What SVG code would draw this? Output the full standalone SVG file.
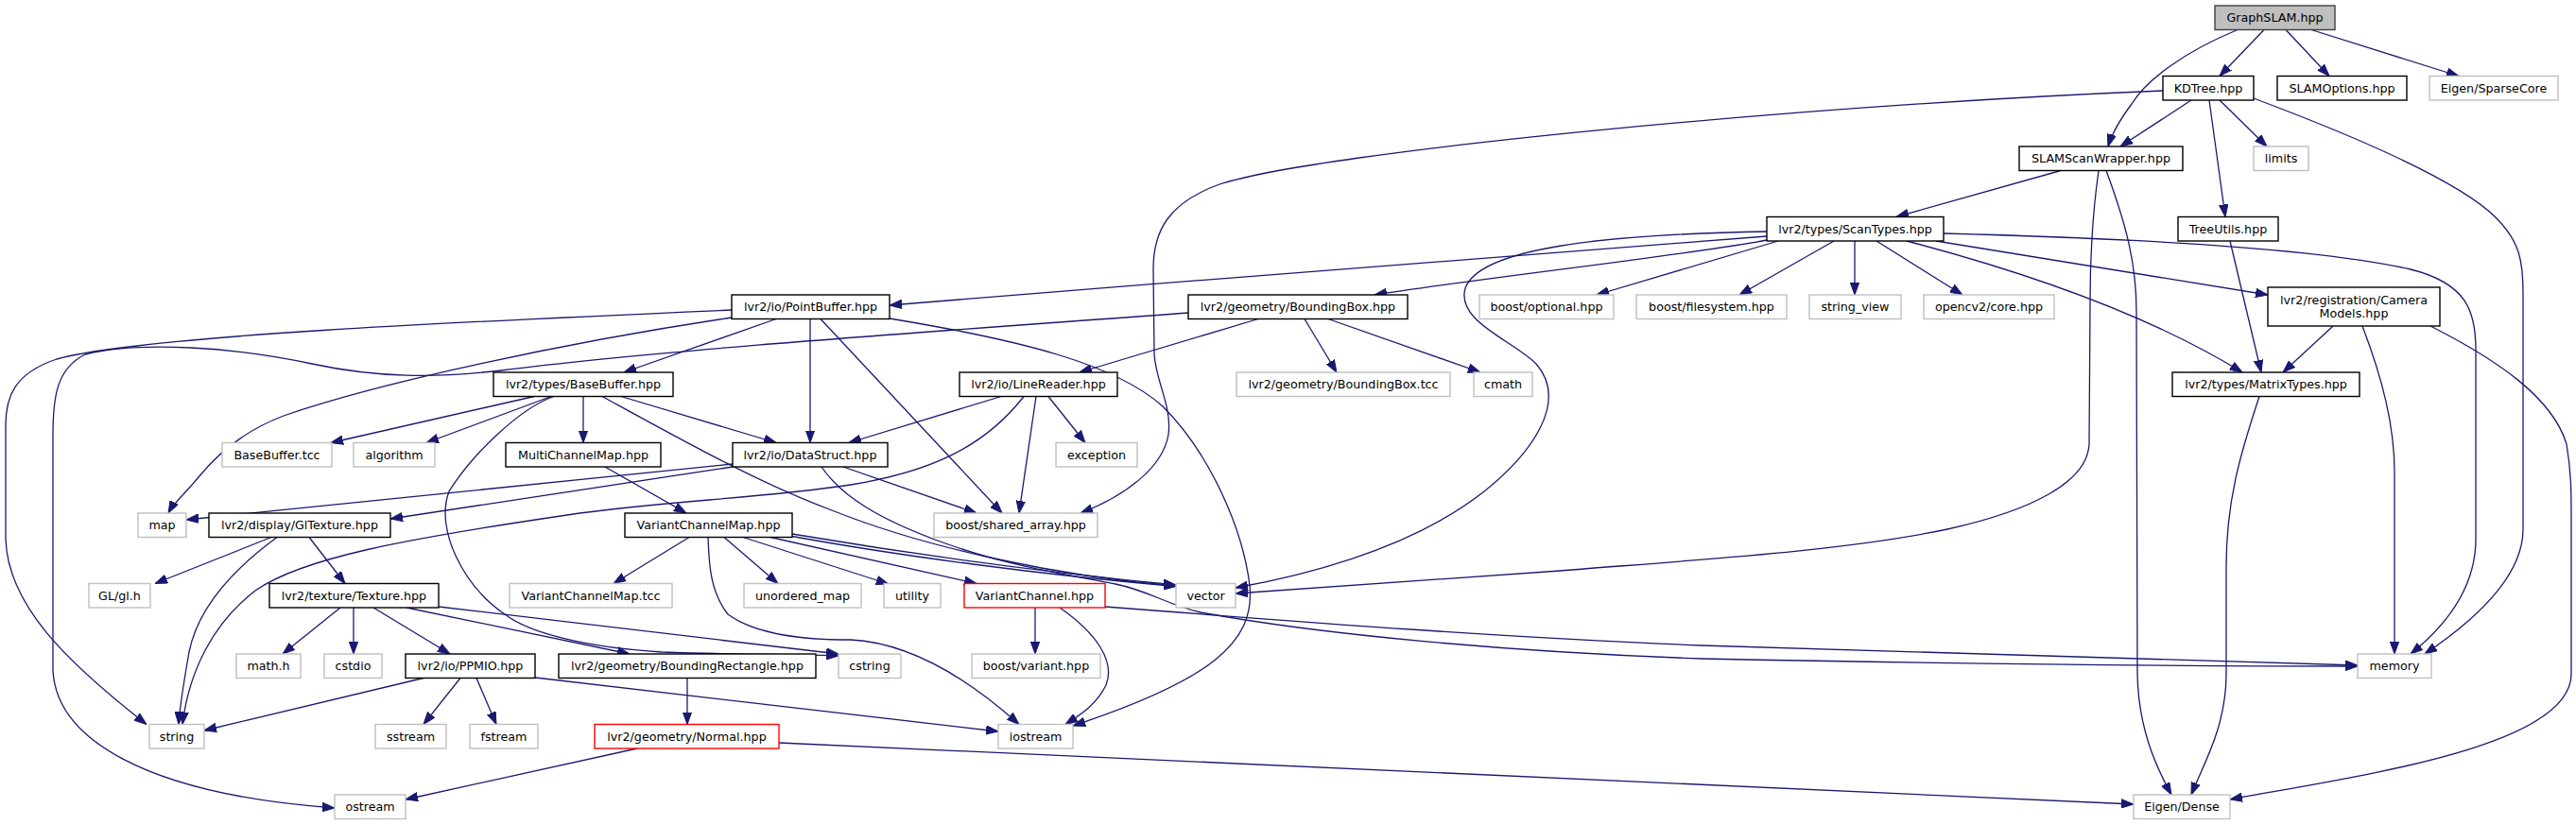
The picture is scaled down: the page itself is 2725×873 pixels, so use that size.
<svg xmlns="http://www.w3.org/2000/svg" width="2725" height="873" viewBox="0 0 2725 873">
<defs>
<marker id="a" markerWidth="13" markerHeight="10" refX="13" refY="5" orient="auto" markerUnits="userSpaceOnUse"><path d="M0,0.3 L13,5 L0,9.7 z" fill="#191970" stroke="#191970" stroke-width="1"/></marker>
<style>
.node rect{fill:#ffffff;stroke:#000000;stroke-width:1.4}
.node.g rect{stroke:#bfbfbf}
.node.r rect{stroke:#ff0000}
.node.root rect{fill:#bfbfbf;stroke:#404040}
.node text{font-family:"DejaVu Sans","Liberation Sans",sans-serif;font-size:12.7px;text-anchor:middle;fill:#000000}
#edges path{fill:none;stroke:#191970;stroke-width:1.3;marker-end:url(#a)}
</style>
</defs>
<rect width="2725" height="873" fill="#ffffff"/>
<g id="edges">
<path d="M2395,31.5 L2348,80.5"/>
<path d="M2418,31.5 L2464,80.5"/>
<path d="M2445,31.5 L2601,80.5"/>
<path d="M2367,31.5 C2310,55 2270,85 2255,110 C2240,130 2233,145 2230,155"/>
<path d="M2318,106 L2243,155"/>
<path d="M2348,106 L2398,155"/>
<path d="M2337,106 L2354,229.5"/>
<path d="M2384,104 C2480,140 2600,190 2640,230 C2665,255 2669,275 2669,310 L2669,560 C2669,610 2620,655 2565,692"/>
<path d="M2288,96 C1900,112 1400,160 1290,195 C1235,215 1220,245 1220,285 L1221,375 C1223,405 1240,430 1236,460 C1230,495 1190,525 1143,543"/>
<path d="M2180,180.5 L2006,229.5"/>
<path d="M2220,180.5 C2213,230 2211,270 2211,320 L2210,470 C2208,510 2150,540 2060,560 C1950,583 1800,592 1650,604 C1500,614 1400,622 1307,628"/>
<path d="M2228,180.5 C2250,240 2260,280 2260,330 L2261,713 C2262,770 2280,810 2297,841"/>
<path d="M1869,250 C1780,258 1300,293 941,323"/>
<path d="M1869,254 C1800,268 1560,295 1454,312"/>
<path d="M1881,255 L1689,312"/>
<path d="M1940,255 L1840,312"/>
<path d="M1962,255 L1962,312"/>
<path d="M1985,255 L2076,312"/>
<path d="M2048,255 L2399,312"/>
<path d="M2017,255 C2120,282 2260,325 2372,394"/>
<path d="M2056,247 C2250,252 2450,262 2550,285 C2610,300 2619,330 2619,370 L2619,570 C2619,620 2590,660 2550,692"/>
<path d="M1869,245 C1700,248 1565,262 1550,305 C1540,340 1600,360 1625,385 C1660,425 1620,480 1570,520 C1500,575 1400,605 1307,622"/>
<path d="M2359,255 L2392,394"/>
<path d="M2468,345 L2415,394"/>
<path d="M2499,345 C2520,400 2533,450 2533,500 L2533,692"/>
<path d="M2571,345 C2640,380 2700,420 2715,470 C2720,500 2720,520 2720,550 L2720,713 C2720,790 2500,820 2359,846"/>
<path d="M2390,419.5 C2370,480 2355,530 2355,600 L2355,713 C2355,770 2330,810 2318,841"/>
<path d="M821,337.5 L660,394"/>
<path d="M857,337.5 L857,468.5"/>
<path d="M868,337.5 L1060,543"/>
<path d="M774,336 C600,362 400,405 300,440 C260,455 232,478 210,505 C196,522 184,532 178,543"/>
<path d="M774,328 C500,340 150,355 60,380 C15,395 6,420 6,450 L6,570 C8,640 70,700 155,766.5"/>
<path d="M941,337 C1080,360 1180,385 1230,430 C1280,480 1315,560 1322,620 C1328,680 1280,720 1135,768"/>
<path d="M1331,337.5 L1142,394"/>
<path d="M1380,337.5 L1414,394"/>
<path d="M1405,337.5 L1566,394"/>
<path d="M1257,331 C1000,350 700,370 530,392 C460,400 400,400 330,385 C250,368 150,360 90,375 C60,390 56,420 56,460 L56,710 C60,780 150,840 354,855"/>
<path d="M565,419.5 L350,468.5"/>
<path d="M583,419.5 L451,468.5"/>
<path d="M617,419.5 L617,468.5"/>
<path d="M657,419.5 L821,468.5"/>
<path d="M637,419.5 C720,465 800,510 880,540 C980,580 1120,610 1244,620"/>
<path d="M586,419.5 C550,432 500,480 475,520 C460,560 490,620 534,650 C560,670 620,685 700,690 C780,693 840,692 887,694"/>
<path d="M775,491 L197,550"/>
<path d="M775,494 L413,549"/>
<path d="M892,494 L1033,543"/>
<path d="M869,494 C890,525 930,550 1000,575 C1070,600 1140,610 1180,618 C1215,625 1235,640 1270,648 C1400,672 1600,690 1800,697 C2100,703 2350,705 2494,705"/>
<path d="M1059,419.5 L898,468.5"/>
<path d="M1109,419.5 L1148,468.5"/>
<path d="M1096,419.5 L1078,543"/>
<path d="M1083,419.5 C1040,475 980,500 900,513 C800,528 700,530 600,545 C430,570 320,590 270,625 C225,660 200,710 193,766.5"/>
<path d="M640,494 L726,543"/>
<path d="M287,568.5 L164,617.5"/>
<path d="M327,568.5 L365,617.5"/>
<path d="M293,568.5 C250,600 210,640 200,690 C193,730 190,750 189,766.5"/>
<path d="M729,568.5 L649,617.5"/>
<path d="M766,568.5 L823,617.5"/>
<path d="M786,568.5 L940,618"/>
<path d="M815,568.5 L1033,617.5"/>
<path d="M838,565 C950,584 1100,605 1244,619"/>
<path d="M838,567.5 C950,588 1100,608 1244,620.5"/>
<path d="M749,568.5 C750,600 752,627 770,650 C800,672 850,677 900,677 C957,680 1015,710 1078,766.5"/>
<path d="M1095,643 L1095,692"/>
<path d="M1121,643 C1160,670 1180,700 1170,725 C1160,745 1145,755 1127,766.5"/>
<path d="M1169,642 C1400,660 1600,675 1800,683 C2100,693 2350,700 2494,704"/>
<path d="M360,643 L299,692"/>
<path d="M374,643 L374,692"/>
<path d="M395,643 L476,692"/>
<path d="M430,643 L666,692"/>
<path d="M464,642 L887,692"/>
<path d="M448,717.5 L216,773"/>
<path d="M487,717.5 L448,766.5"/>
<path d="M504,717.5 L525,766.5"/>
<path d="M566,717 L1056,774"/>
<path d="M727,717.5 L727,766.5"/>
<path d="M674,792 L429,846"/>
<path d="M824,786 L2257,851"/>
</g>
<g id="n1" class="node root"><rect x="2343" y="6" width="127" height="25.5"/><text x="2406.5" y="23">GraphSLAM.hpp</text></g>
<g id="n2" class="node"><rect x="2288" y="80.5" width="96" height="25.5"/><text x="2336" y="97.5">KDTree.hpp</text></g>
<g id="n3" class="node"><rect x="2409" y="80.5" width="137" height="25.5"/><text x="2477.5" y="97.5">SLAMOptions.hpp</text></g>
<g id="n4" class="node g"><rect x="2570" y="80.5" width="136" height="25.5"/><text x="2638" y="97.5">Eigen/SparseCore</text></g>
<g id="n5" class="node"><rect x="2136" y="155" width="173" height="25.5"/><text x="2222.5" y="172">SLAMScanWrapper.hpp</text></g>
<g id="n6" class="node g"><rect x="2384" y="155" width="58" height="25.5"/><text x="2413" y="172">limits</text></g>
<g id="n7" class="node"><rect x="1869" y="229.5" width="187" height="25.5"/><text x="1962.5" y="246.5">lvr2/types/ScanTypes.hpp</text></g>
<g id="n8" class="node"><rect x="2304" y="229.5" width="106" height="25.5"/><text x="2357" y="246.5">TreeUtils.hpp</text></g>
<g id="n9" class="node"><rect x="774" y="312" width="167" height="25.5"/><text x="857.5" y="329">lvr2/io/PointBuffer.hpp</text></g>
<g id="n10" class="node"><rect x="1257" y="312" width="232" height="25.5"/><text x="1373" y="329">lvr2/geometry/BoundingBox.hpp</text></g>
<g id="n11" class="node g"><rect x="1565" y="312" width="142" height="25.5"/><text x="1636" y="329">boost/optional.hpp</text></g>
<g id="n12" class="node g"><rect x="1731" y="312" width="159" height="25.5"/><text x="1810.5" y="329">boost/filesystem.hpp</text></g>
<g id="n13" class="node g"><rect x="1914" y="312" width="97" height="25.5"/><text x="1962.5" y="329">string_view</text></g>
<g id="n14" class="node g"><rect x="2035" y="312" width="138" height="25.5"/><text x="2104" y="329">opencv2/core.hpp</text></g>
<g id="n15" class="node"><rect x="2399" y="304" width="182" height="41"/><text x="2490" y="321.5">lvr2/registration/Camera</text><text x="2490" y="335.5">Models.hpp</text></g>
<g id="n16" class="node"><rect x="522" y="394" width="190" height="25.5"/><text x="617" y="411">lvr2/types/BaseBuffer.hpp</text></g>
<g id="n17" class="node"><rect x="1015" y="394" width="167" height="25.5"/><text x="1098.5" y="411">lvr2/io/LineReader.hpp</text></g>
<g id="n18" class="node g"><rect x="1308" y="394" width="226" height="25.5"/><text x="1421" y="411">lvr2/geometry/BoundingBox.tcc</text></g>
<g id="n19" class="node g"><rect x="1559" y="394" width="62" height="25.5"/><text x="1590" y="411">cmath</text></g>
<g id="n20" class="node"><rect x="2298" y="394" width="198" height="25.5"/><text x="2397" y="411">lvr2/types/MatrixTypes.hpp</text></g>
<g id="n21" class="node g"><rect x="235" y="468.5" width="116" height="25.5"/><text x="293" y="485.5">BaseBuffer.tcc</text></g>
<g id="n22" class="node g"><rect x="374" y="468.5" width="86" height="25.5"/><text x="417" y="485.5">algorithm</text></g>
<g id="n23" class="node"><rect x="535" y="468.5" width="164" height="25.5"/><text x="617" y="485.5">MultiChannelMap.hpp</text></g>
<g id="n24" class="node"><rect x="775" y="468.5" width="164" height="25.5"/><text x="857" y="485.5">lvr2/io/DataStruct.hpp</text></g>
<g id="n25" class="node g"><rect x="1117" y="468.5" width="86" height="25.5"/><text x="1160" y="485.5">exception</text></g>
<g id="n26" class="node g"><rect x="146" y="543" width="51" height="25.5"/><text x="171.5" y="560">map</text></g>
<g id="n27" class="node"><rect x="221" y="543" width="192" height="25.5"/><text x="317" y="560">lvr2/display/GlTexture.hpp</text></g>
<g id="n28" class="node"><rect x="661" y="543" width="177" height="25.5"/><text x="749.5" y="560">VariantChannelMap.hpp</text></g>
<g id="n29" class="node g"><rect x="988" y="543" width="173" height="25.5"/><text x="1074.5" y="560">boost/shared_array.hpp</text></g>
<g id="n30" class="node g"><rect x="94" y="617.5" width="65" height="25.5"/><text x="126.5" y="634.5">GL/gl.h</text></g>
<g id="n31" class="node"><rect x="285" y="617.5" width="179" height="25.5"/><text x="374.5" y="634.5">lvr2/texture/Texture.hpp</text></g>
<g id="n32" class="node g"><rect x="539" y="617.5" width="172" height="25.5"/><text x="625" y="634.5">VariantChannelMap.tcc</text></g>
<g id="n33" class="node g"><rect x="787" y="617.5" width="124" height="25.5"/><text x="849" y="634.5">unordered_map</text></g>
<g id="n34" class="node g"><rect x="935" y="617.5" width="60" height="25.5"/><text x="965" y="634.5">utility</text></g>
<g id="n35" class="node r"><rect x="1020" y="617.5" width="149" height="25.5"/><text x="1094.5" y="634.5">VariantChannel.hpp</text></g>
<g id="n36" class="node g"><rect x="1244" y="617.5" width="63" height="25.5"/><text x="1275.5" y="634.5">vector</text></g>
<g id="n37" class="node g"><rect x="250" y="692" width="68" height="25.5"/><text x="284" y="709">math.h</text></g>
<g id="n38" class="node g"><rect x="343" y="692" width="61" height="25.5"/><text x="373.5" y="709">cstdio</text></g>
<g id="n39" class="node"><rect x="429" y="692" width="137" height="25.5"/><text x="497.5" y="709">lvr2/io/PPMIO.hpp</text></g>
<g id="n40" class="node"><rect x="591" y="692" width="272" height="25.5"/><text x="727" y="709">lvr2/geometry/BoundingRectangle.hpp</text></g>
<g id="n41" class="node g"><rect x="887" y="692" width="66" height="25.5"/><text x="920" y="709">cstring</text></g>
<g id="n42" class="node g"><rect x="1028" y="692" width="136" height="25.5"/><text x="1096" y="709">boost/variant.hpp</text></g>
<g id="n43" class="node g"><rect x="2494" y="692" width="78" height="25.5"/><text x="2533" y="709">memory</text></g>
<g id="n44" class="node g"><rect x="158" y="766.5" width="58" height="25.5"/><text x="187" y="783.5">string</text></g>
<g id="n45" class="node g"><rect x="397" y="766.5" width="75" height="25.5"/><text x="434.5" y="783.5">sstream</text></g>
<g id="n46" class="node g"><rect x="497" y="766.5" width="72" height="25.5"/><text x="533" y="783.5">fstream</text></g>
<g id="n47" class="node r"><rect x="629" y="766.5" width="195" height="25.5"/><text x="726.5" y="783.5">lvr2/geometry/Normal.hpp</text></g>
<g id="n48" class="node g"><rect x="1056" y="766.5" width="79" height="25.5"/><text x="1095.5" y="783.5">iostream</text></g>
<g id="n49" class="node g"><rect x="354" y="841" width="75" height="25.5"/><text x="391.5" y="858">ostream</text></g>
<g id="n50" class="node g"><rect x="2257" y="841" width="102" height="25.5"/><text x="2308" y="858">Eigen/Dense</text></g>
</svg>
